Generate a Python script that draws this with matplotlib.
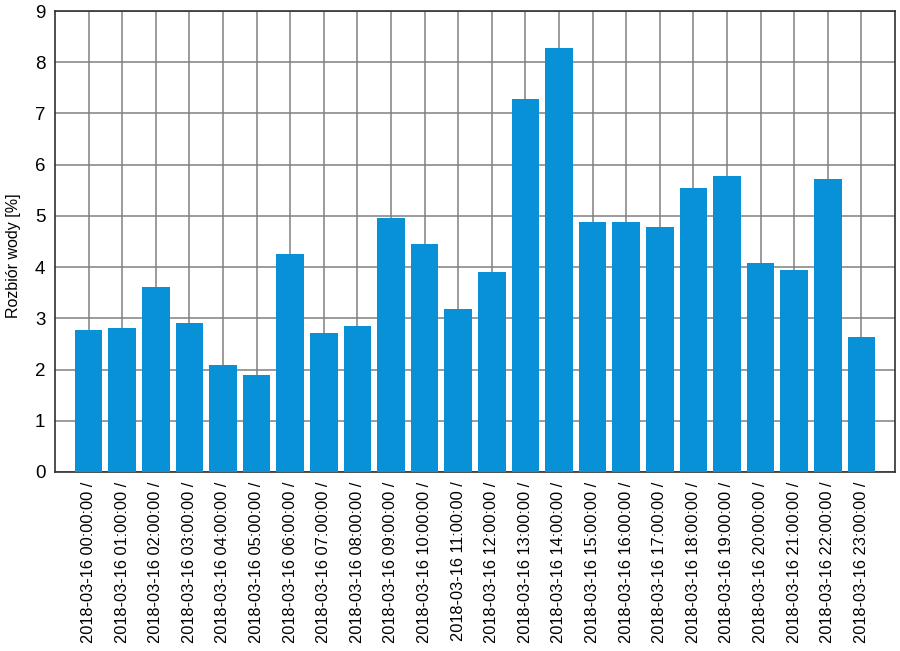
import matplotlib
matplotlib.use("Agg")
import matplotlib.pyplot as plt

plt.rcParams['font.family'] = ['Liberation Sans', 'DejaVu Sans']

categories = [f"2018-03-16 {h:02d}:00:00 /" for h in range(24)]
values = [2.77, 2.81, 3.61, 2.91, 2.09, 1.89, 4.26, 2.71, 2.85, 4.96, 4.45, 3.18,
          3.91, 7.29, 8.28, 4.88, 4.88, 4.79, 5.55, 5.78, 4.08, 3.95, 5.72, 2.64]
yticks = list(range(10))
ylabel = "Rozbiór wody [%]"

fig = plt.figure(figsize=(9, 6.51), dpi=100)
ax = fig.add_axes([0.0611, 0.275, 0.9333, 0.708])
x = list(range(len(values)))
ax.bar(x, values, width=0.82, color='#0891D6', zorder=3)
ax.set_xlim(-1, len(values))
ax.set_ylim(0, 9)
ax.set_yticks(yticks)
ax.set_xticks(x)
ax.set_xticklabels(categories, rotation=90, fontsize=11.8)
ax.tick_params(axis='y', labelsize=13.5, length=0, pad=7)
ax.tick_params(axis='x', length=0, pad=7)
ax.grid(True, color='#808080', linewidth=1.1, zorder=0)
ax.set_ylabel(ylabel, fontsize=11.5)
ax.yaxis.set_label_coords(-0.040, 0.47)
for s in ax.spines.values():
    s.set_color('#303030')
    s.set_linewidth(1.2)
fig.savefig("out.png", dpi=100)
